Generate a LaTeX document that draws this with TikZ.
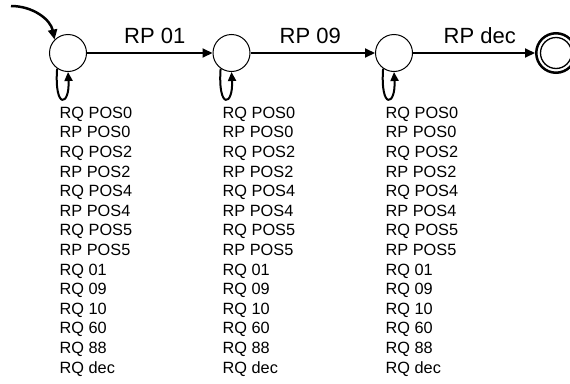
\documentclass[tikz,border=0pt]{standalone}
\usepackage{fontspec}
\setmainfont{Liberation Sans}
\usetikzlibrary{arrows.meta}
\begin{document}
\begin{tikzpicture}[x=1pt,y=-1pt,
  state/.style={circle,draw,line width=1pt,minimum size=37pt,inner sep=0pt},
  trans/.style={line width=2pt,-{Triangle[length=10pt,width=9pt]}},
  lbl/.style={font=\fontsize{22}{26}\selectfont,anchor=base,inner sep=0pt},
  item/.style={font=\fontsize{16.3}{19.6}\selectfont,anchor=base west,inner sep=0pt}]
\useasboundingbox (0,0) rectangle (570,383);
\clip (0,0) rectangle (570,383);
\node[state] (s1) at (68,53) {};
\node[state] (s2) at (231.5,53) {};
\node[state] (s3) at (394,53) {};
\node[circle,draw,line width=2.5pt,minimum size=39.5pt,inner sep=0pt] (f) at (556,53) {};
\draw[line width=1.3pt] (f.center) circle (15.5pt);
\coordinate (init) at (11,6);
\draw[line width=2.5pt,-{Triangle[length=10pt,width=9pt]}] (init) .. controls +(22,0) and +(-4,-20) .. (s1.135);
\draw[trans] (s1) -- node[lbl,pos=.54,yshift=10pt] (e1) {RP 01} (s2);
\draw[trans] (s2) -- node[lbl,pos=.48,yshift=10pt] (e2) {RP 09} (s3);
\draw[trans] (s3) -- node[lbl,pos=.547,yshift=10pt] (e3) {RP dec} (f);
\foreach \s in {s1,s2,s3}{
  \draw[trans,-{Triangle[length=9pt,width=8pt]}] (\s.235) .. controls +(-3,42) and +(2,34) .. (\s.south);
}
\foreach \c/\x in {1/59.5,2/222.5,3/385.5}{
  \foreach \t [count=\i] in {RQ POS0,RP POS0,RQ POS2,RP POS2,RQ POS4,RP POS4,RQ POS5,RP POS5,RQ 01,RQ 09,RQ 10,RQ 60,RQ 88,RQ dec}{
    \node[item] (c\c-\i) at (\x,{118.3+19.6*(\i-1)}) {\t};
  }
}
\end{tikzpicture}
\end{document}
